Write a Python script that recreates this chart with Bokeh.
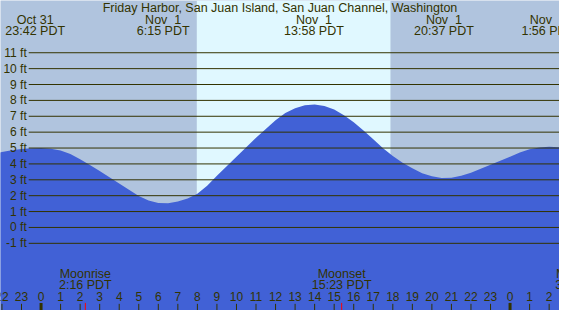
from bokeh.plotting import figure
from bokeh.models import Range1d
from bokeh.core.properties import value
from bokeh.embed import file_html
from bokeh.resources import INLINE

# ---------------- data ----------------
title_text = "Friday Harbor, San Juan Island, San Juan Channel, Washington"

# time in hours from midnight Nov 1 (PDT), half-hourly samples of the tide curve
hours = [-2.5, -2.0, -1.5, -1.0, -0.5, 0.0, 0.5, 1.0, 1.5, 2.0,
         2.5, 3.0, 3.5, 4.0, 4.5, 5.0, 5.5, 6.0, 6.5, 7.0,
         7.5, 8.0, 8.5, 9.0, 9.5, 10.0, 10.5, 11.0, 11.5, 12.0,
         12.5, 13.0, 13.5, 14.0, 14.5, 15.0, 15.5, 16.0, 16.5, 17.0,
         17.5, 18.0, 18.5, 19.0, 19.5, 20.0, 20.5, 21.0, 21.5, 22.0,
         22.5, 23.0, 23.5, 24.0, 24.5, 25.0, 25.5, 26.0, 26.5, 27.0]
heights_ft = [4.62, 4.75, 4.86, 4.94, 4.99, 5.00, 4.95, 4.84, 4.62, 4.30,
              3.93, 3.55, 3.16, 2.77, 2.37, 1.98, 1.70, 1.54, 1.52, 1.63,
              1.82, 2.12, 2.62, 3.25, 3.86, 4.45, 5.05, 5.65, 6.20, 6.75,
              7.20, 7.50, 7.69, 7.74, 7.65, 7.42, 7.07, 6.62, 6.10, 5.55,
              4.98, 4.50, 4.08, 3.72, 3.42, 3.22, 3.12, 3.13, 3.25, 3.45,
              3.70, 3.95, 4.20, 4.45, 4.72, 4.93, 5.04, 5.08, 5.05, 5.00]

# tide extremes
tide_hours = [-0.3, 6.25, 13.967, 20.617, 25.933]
tide_dates = ["Oct 31", "Nov \u00a01", "Nov \u00a01", "Nov \u00a01", "Nov \u00a02"]
tide_clock = ["23:42 PDT", "6:15 PDT", "13:58 PDT", "20:37 PDT", "1:56 PDT"]

# moon events
moon_hours = [2.267, 15.383, 27.667]
moon_names = ["Moonrise", "Moonset", "Moonrise"]
moon_clock = ["2:16 PDT", "15:23 PDT", "3:40 PDT"]

# sun
sunrise_hour = 7.97
sunset_hour = 17.88

# axis labels
ft_levels = [-1, 0, 1, 2, 3, 4, 5, 6, 7, 8, 9, 10, 11]
ft_labels = ["-1 ft", "0 ft", "1 ft", "2 ft", "3 ft", "4 ft", "5 ft", "6 ft",
             "7 ft", "8 ft", "9 ft", "10 ft", "11 ft"]
tick_hours = list(range(-2, 28))
tick_labels = [str(h % 24) for h in tick_hours]
midnight_hours = [0, 24]

# ---------------- style ----------------
NIGHT = "#B0C4DE"
DAY = "#E0F8FF"
WATER = "#4161D6"
DARK = "#333300"
FONT = "Liberation Sans"

W, H = 559, 310
REF_W, REF_H = 575.0, 326.0
X0, X1 = -2.075, 26.53
Y0, Y1 = -5.23, 14.29


def xpx(px):
    return X0 + px / REF_W * (X1 - X0)


def ypx(py):
    return Y1 - py / REF_H * (Y1 - Y0)


p = figure(width=W, height=H, x_range=Range1d(X0, X1), y_range=Range1d(Y0, Y1),
           output_backend="svg", toolbar_location=None, min_border=0)
p.axis.visible = False
p.grid.visible = False
p.outline_line_color = None
p.background_fill_color = NIGHT
p.border_fill_color = NIGHT

# daylight band
p.quad(left=[sunrise_hour], right=[sunset_hour], bottom=[Y0], top=[Y1],
       fill_color=DAY, line_color=None)

# water
p.varea(x=hours, y1=[Y0 - 1] * len(hours), y2=heights_ft, fill_color=WATER)

# horizontal level lines
n = len(ft_levels)
p.segment(x0=[xpx(29)] * n, x1=[X1 + 1] * n, y0=ft_levels, y1=ft_levels,
          line_color=DARK, line_width=1)
p.text(x=[xpx(27)] * n, y=ft_levels, text=ft_labels, text_align="right",
       text_baseline="middle", text_font=value(FONT), text_font_size="12px",
       text_color=DARK)

# title
p.text(x=[(X0 + X1) / 2], y=[ypx(7.5)], text=[title_text], text_align="center",
       text_baseline="middle", text_font=value(FONT), text_font_size="12.5px",
       text_color=DARK)

# tide extreme labels
p.text(x=tide_hours, y=[ypx(20)] * len(tide_hours), text=tide_dates,
       text_align="center", text_baseline="middle", text_font=value(FONT),
       text_font_size="12.5px", text_color=DARK)
p.text(x=tide_hours, y=[ypx(32)] * len(tide_hours), text=tide_clock,
       text_align="center", text_baseline="middle", text_font=value(FONT),
       text_font_size="12.5px", text_color=DARK)

# moon labels
p.text(x=moon_hours, y=[ypx(287.5)] * len(moon_hours), text=moon_names,
       text_align="center", text_baseline="middle", text_font=value(FONT),
       text_font_size="12.5px", text_color=DARK)
p.text(x=moon_hours, y=[ypx(299.5)] * len(moon_hours), text=moon_clock,
       text_align="center", text_baseline="middle", text_font=value(FONT),
       text_font_size="12.5px", text_color=DARK)

# hour ticks and labels
m = len(tick_hours)
p.segment(x0=tick_hours, x1=tick_hours, y0=[Y0] * m, y1=[ypx(319)] * m,
          line_color=DARK, line_width=1)
p.segment(x0=midnight_hours, x1=midnight_hours, y0=[Y0] * 2, y1=[ypx(318)] * 2,
          line_color=DARK, line_width=3)
p.segment(x0=moon_hours, x1=moon_hours, y0=[Y0] * len(moon_hours),
          y1=[ypx(318)] * len(moon_hours), line_color="red", line_width=1)
p.text(x=tick_hours, y=[ypx(311.5)] * m, text=tick_labels, text_align="center",
       text_baseline="middle", text_font=value(FONT), text_font_size="12px",
       text_color=DARK)

open("out.html", "w").write(file_html(p, INLINE))
